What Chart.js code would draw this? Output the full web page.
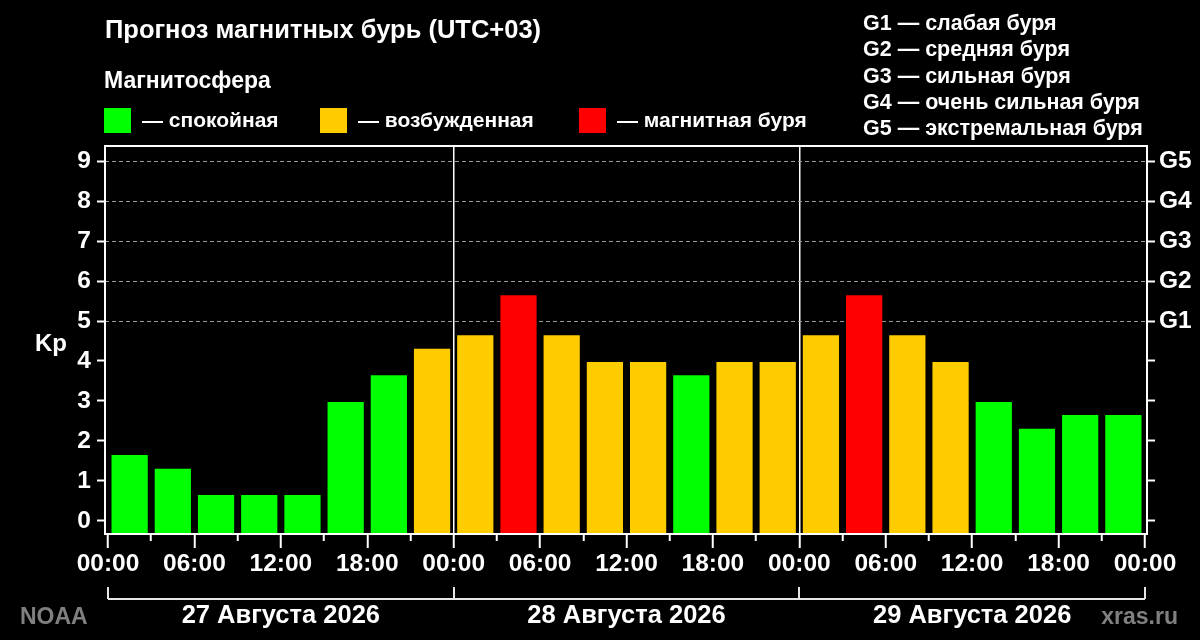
<!DOCTYPE html>
<html>
<head>
<meta charset="utf-8">
<title>Прогноз магнитных бурь</title>
<script src="https://cdn.jsdelivr.net/npm/chart.js"></script>
<style>
  html, body { margin: 0; padding: 0; background: #000; }
</style>
</head>
<body>
<canvas id="kpChart" width="1200" height="640"></canvas>
<script>
// Kp forecast, one value per 3-hour slot, 3 days
const days = ['27 Августа 2026', '28 Августа 2026', '29 Августа 2026'];
const kp = [1.67, 1.33, 0.67, 0.67, 0.67, 3, 3.67, 4.33,
            4.67, 5.67, 4.67, 4, 4, 3.67, 4, 4,
            4.67, 5.67, 4.67, 4, 3, 2.33, 2.67, 2.67];
const timeLabels = ['00:00', '06:00', '12:00', '18:00', '00:00', '06:00', '12:00',
                    '18:00', '00:00', '06:00', '12:00', '18:00', '00:00'];
const kpTicks = [0, 1, 2, 3, 4, 5, 6, 7, 8, 9];
const gLevels = ['G1', 'G2', 'G3', 'G4', 'G5'];
const gNames = ['слабая буря', 'средняя буря', 'сильная буря', 'очень сильная буря', 'экстремальная буря'];
const states = ['спокойная', 'возбужденная', 'магнитная буря'];

const GREEN = '#00ff00', YELLOW = '#ffcc00', RED = '#ff0000';
const FAMILY = '"Liberation Sans", Arial, sans-serif';
const Y_MIN = -0.33, Y_MAX = 9.38;
const X_MIN = -0.21, X_MAX = 72.14;

function levelColor(v) {
  if (v >= 5) return RED;
  if (v >= 4) return YELLOW;
  return GREEN;
}

const tickFont = { family: FAMILY, size: 24.5, weight: 'bold' };

// frame, header texts, day brackets, footer
const decor = {
  id: 'decor',
  beforeDraw(chart) {
    const ctx = chart.ctx;
    ctx.save();
    ctx.fillStyle = '#000';
    ctx.fillRect(0, 0, chart.width, chart.height);
    ctx.restore();
  },
  afterDatasetsDraw(chart) {
    const {ctx, chartArea: a} = chart;
    ctx.save();
    ctx.strokeStyle = '#fff';
    ctx.lineWidth = 2;
    ctx.strokeRect(a.left, a.top, a.right - a.left, a.bottom - a.top);
    ctx.restore();
  },
  afterDraw(chart) {
    const ctx = chart.ctx;
    const xs = chart.scales.x;
    ctx.save();
    ctx.fillStyle = '#fff';
    ctx.textBaseline = 'alphabetic';
    ctx.textAlign = 'left';
    ctx.font = 'bold 25.5px ' + FAMILY;
    ctx.fillText('Прогноз магнитных бурь (UTC+03)', 105, 38);
    ctx.font = 'bold 23px ' + FAMILY;
    ctx.fillText('Магнитосфера', 104, 88);

    // legend
    const boxX = [104, 320, 579];
    const cols = [GREEN, YELLOW, RED];
    ctx.font = 'bold 21px ' + FAMILY;
    states.forEach((s, i) => {
      ctx.fillStyle = cols[i];
      ctx.fillRect(boxX[i], 108, 27, 25);
      ctx.fillStyle = '#fff';
      ctx.fillText('— ' + s, boxX[i] + 38, 127);
    });

    // G scale list
    ctx.font = 'bold 21.5px ' + FAMILY;
    gLevels.forEach((g, i) => {
      ctx.fillText(g + ' — ' + gNames[i], 863, 30 + i * 26.3);
    });

    // Kp label
    ctx.font = 'bold 24px ' + FAMILY;
    ctx.fillText('Kp', 35, 351);

    // day brackets
    ctx.strokeStyle = '#e6e6e6';
    ctx.lineWidth = 2;
    const bY = 599, tY = 587;
    ctx.beginPath();
    ctx.moveTo(xs.getPixelForValue(0), bY);
    ctx.lineTo(xs.getPixelForValue(days.length * 24), bY);
    for (let d = 0; d <= days.length; d++) {
      const px = Math.round(xs.getPixelForValue(d * 24));
      ctx.moveTo(px, tY);
      ctx.lineTo(px, bY);
    }
    ctx.stroke();

    // footer
    ctx.fillStyle = '#808080';
    ctx.font = 'bold 23px ' + FAMILY;
    ctx.fillText('NOAA', 20, 624);
    ctx.textAlign = 'right';
    ctx.fillText('xras.ru', 1178, 624);
    ctx.restore();
  }
};

new Chart(document.getElementById('kpChart'), {
  type: 'bar',
  data: {
    datasets: [{
      data: kp.map((v, i) => ({ x: i * 3 + 1.5, y: v })),
      backgroundColor: kp.map(levelColor),
      borderColor: 'rgba(0,0,0,0.3)',
      borderWidth: 1,
      borderSkipped: 'start',
      base: Y_MIN,
      barPercentage: 0.885,
      categoryPercentage: 1
    }]
  },
  options: {
    responsive: false,
    animation: false,
    devicePixelRatio: 1,
    layout: { padding: { top: 146, left: 0, right: 0, bottom: 0 } },
    plugins: { legend: { display: false }, title: { display: false }, tooltip: { enabled: false } },
    scales: {
      x: {
        type: 'linear', position: 'bottom', min: X_MIN, max: X_MAX, offset: false,
        afterBuildTicks: s => {
          const t = [];
          for (let h = 0; h <= days.length * 24; h += 3) t.push({ value: h });
          s.ticks = t;
        },
        afterFit: s => { s.height = 53; },
        ticks: {
          color: '#fff', font: tickFont, padding: 2, autoSkip: false, maxRotation: 0,
          callback: v => (v % 6 === 0 ? timeLabels[v / 6] : '')
        },
        grid: {
          offset: false,
          color: c => (c.tick && c.tick.value % 24 === 0 && c.tick.value > 0 && c.tick.value < days.length * 24) ? '#ffffff' : 'transparent',
          lineWidth: 1.5,
          tickColor: '#fff', tickWidth: 2, tickLength: 14,
          tickBorderDash: c => (c.tick && c.tick.value % 6 !== 0) ? [7, 30] : []
        },
        border: { display: false }
      },
      xd: {
        type: 'linear', position: 'bottom', min: X_MIN, max: X_MAX, offset: false,
        afterBuildTicks: s => { s.ticks = days.map((d, i) => ({ value: i * 24 + 12 })); },
        afterFit: s => { s.height = 53; },
        ticks: {
          color: '#fff', font: { family: FAMILY, size: 25.5, weight: 'bold' },
          padding: 14, autoSkip: false, maxRotation: 0,
          callback: (v, i) => days[i]
        },
        grid: { display: false, drawTicks: false, offset: false },
        border: { display: false }
      },
      y: {
        type: 'linear', position: 'left', min: Y_MIN, max: Y_MAX,
        afterBuildTicks: s => { s.ticks = kpTicks.map(v => ({ value: v })); },
        afterFit: s => { s.width = 105; },
        ticks: { color: '#fff', font: tickFont, padding: 6 },
        grid: {
          color: c => (c.tick && c.tick.value >= 5) ? '#9a9a9a' : 'transparent',
          lineWidth: 1, tickColor: '#fff', tickWidth: 2, tickLength: 8
        },
        border: { display: false, dash: [4, 3] }
      },
      y2: {
        type: 'linear', position: 'right', min: Y_MIN, max: Y_MAX,
        afterBuildTicks: s => { s.ticks = kpTicks.map(v => ({ value: v })); },
        afterFit: s => { s.width = 53; },
        ticks: {
          color: '#fff', font: tickFont, padding: 4,
          callback: v => (v >= 5 ? gLevels[v - 5] : '')
        },
        grid: { drawOnChartArea: false, tickColor: '#fff', tickWidth: 2, tickLength: 8 },
        border: { display: false }
      }
    }
  },
  plugins: [decor]
});
</script>
</body>
</html>
